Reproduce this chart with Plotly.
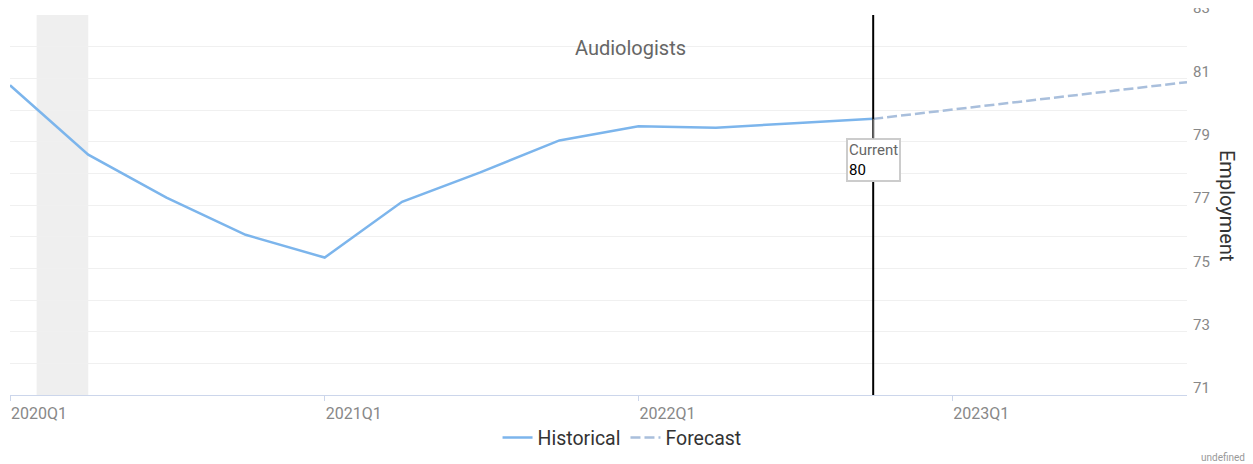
import plotly.graph_objects as go
import pandas as pd

hist_quarters = ["2020Q1", "2020Q2", "2020Q3", "2020Q4", "2021Q1", "2021Q2", "2021Q3",
                 "2021Q4", "2022Q1", "2022Q2", "2022Q3", "2022Q4"]
hist_values = [80.78, 78.59, 77.23, 76.06, 75.34, 77.10, 78.03, 79.04, 79.49, 79.44, 79.58, 79.72]

fc_quarters = ["2022Q4", "2023Q1", "2023Q2", "2023Q3", "2023Q4"]
fc_values = [79.72, 80.01, 80.30, 80.59, 80.88]

tick_quarters = ["2020Q1", "2021Q1", "2022Q1", "2023Q1"]
y_ticks = [71, 73, 75, 77, 79, 81, 83]
recession = ["2020-02-01", "2020-04-01"]
current_quarter = "2022Q4"
current_value = 80
title = "Audiologists"


def qdate(q):
    return pd.Period(q, freq="Q").start_time


font = "Roboto"
fig = go.Figure()

fig.add_trace(go.Scatter(
    x=[qdate(q) for q in hist_quarters], y=hist_values, mode="lines", name="Historical",
    line=dict(color="#7cb5ec", width=2.5)))
fig.add_trace(go.Scatter(
    x=[qdate(q) for q in fc_quarters], y=fc_values, mode="lines", name="Forecast",
    line=dict(color="#a9bfdc", width=2.5, dash="10px,4px")))

fig.add_vrect(x0=recession[0], x1=recession[1], fillcolor="#efefef", line_width=0,
              layer="below")
fig.add_vline(x=qdate(current_quarter), line=dict(color="#000000", width=2))

fig.add_annotation(
    x=qdate(current_quarter), y=hist_values[-1], xref="x", yref="y",
    text="<span style='color:#666666'>Current</span><br><span style='color:#000000'>%d</span>" % current_value,
    showarrow=True, arrowhead=0, arrowcolor="#999999", arrowwidth=1, ax=0, ay=41,
    align="left", bgcolor="#ffffff", bordercolor="#cccccc", borderwidth=2, borderpad=1,
    font=dict(family=font, size=15), yanchor="middle")

fig.add_annotation(
    text="Employment", textangle=90, xref="paper", yref="paper", x=1, y=0.5,
    xanchor="center", yanchor="middle",
    xshift=40, showarrow=False, font=dict(family=font, size=20, color="#333333"))

fig.add_annotation(
    text="undefined", xref="paper", yref="paper", x=1, y=0, xanchor="right",
    yanchor="middle", xshift=60, yshift=-62, showarrow=False,
    font=dict(family=font, size=10, color="#999999"))

# page body has an 8px default margin, so the figure is drawn 8px smaller and offset
fig.update_layout(
    width=1245, height=456,
    margin=dict(l=2, r=66, t=7, b=69, autoexpand=False),
    plot_bgcolor="#ffffff", paper_bgcolor="#ffffff",
    font=dict(family=font),
    title=dict(text=title, x=0.5, xref="container", xanchor="center",
               y=1 - 40 / 456, yanchor="middle",
               font=dict(family=font, size=20, color="#666666")),
    legend=dict(orientation="h", x=0.52, xanchor="center", y=-0.113, yanchor="middle",
                bgcolor="rgba(0,0,0,0)",
                font=dict(family=font, size=19.5, color="#333333"), itemwidth=30),
    showlegend=True,
)

fig.update_xaxes(
    range=[qdate("2020Q1"), qdate("2023Q4")],
    tickvals=[qdate(q) for q in tick_quarters], ticktext=tick_quarters,
    showgrid=False, showline=True, linecolor="#ccd6eb", linewidth=1,
    ticks="outside", ticklen=5, tickcolor="#ccd6eb",
    tickfont=dict(family=font, size=16, color="#888888"),
    ticklabelshift=29, ticklabelstandoff=-1, zeroline=False, automargin=False)

fig.update_yaxes(
    side="right", range=[71, 83], tickvals=y_ticks,
    showgrid=True, gridcolor="#f0f0f0", gridwidth=1,
    minor=dict(dtick=1, tick0=71, showgrid=True, gridcolor="#f0f0f0", gridwidth=1),
    ticks="", ticklabelstandoff=5, ticklabelshift=-7, ticklabeloverflow="allow",
    tickfont=dict(family=font, size=15, color="#888888"),
    showline=False, zeroline=False, automargin=False)

fig.write_html("out.html")
